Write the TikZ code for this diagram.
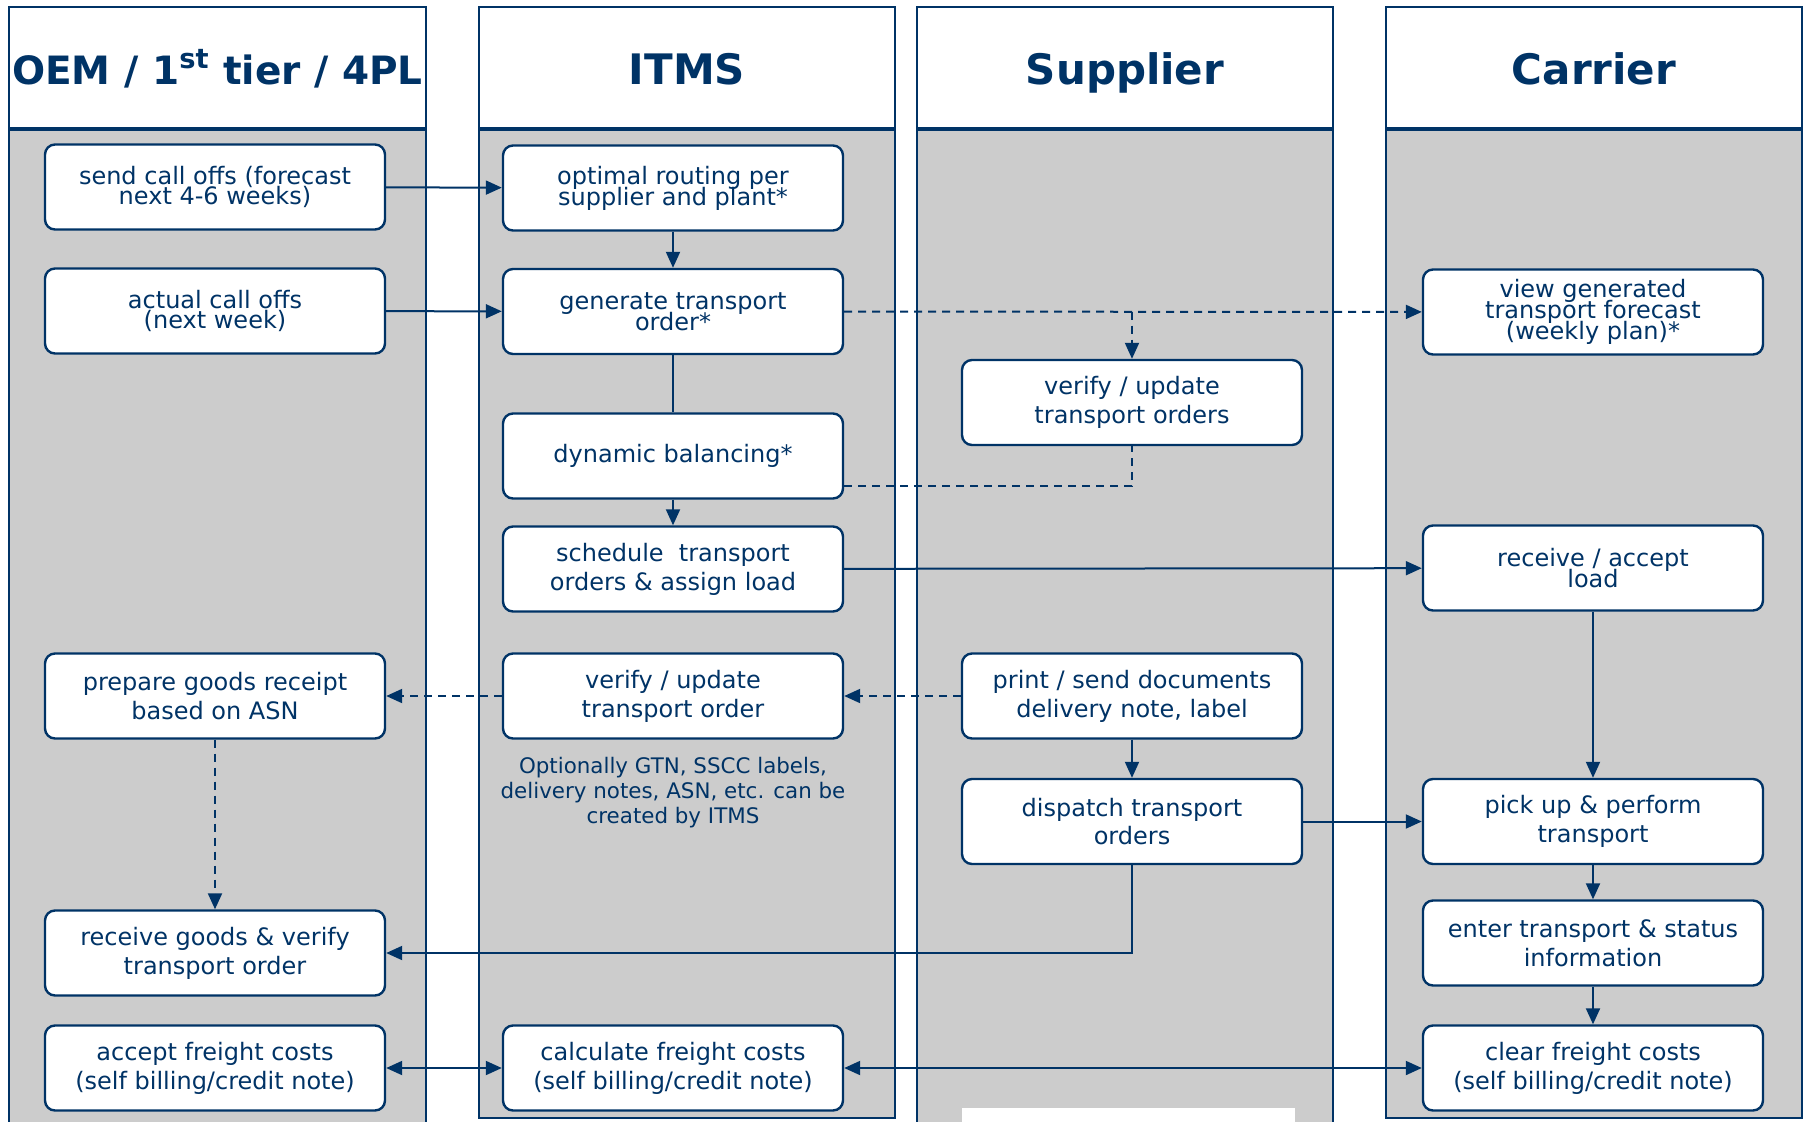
\documentclass[tikz,border=0pt]{standalone}
\usepackage{fontspec}
\setmainfont{DejaVu Sans}
\usetikzlibrary{arrows.meta,calc}
\definecolor{navy}{RGB}{0,51,102}
\definecolor{lanegray}{RGB}{204,204,204}
\newcommand\tightlines{\fontsize{12}{10.4}\selectfont\lineskiplimit=-20pt\relax}
\begin{document}
\begin{tikzpicture}[x=0.5pt,y=-0.5pt,
  lanebody/.style={draw=navy,line width=1pt,fill=lanegray},
  lanehead/.style={draw=navy,line width=1pt,fill=white},
  headtext/.style={text=navy,anchor=base,font=\bfseries\fontsize{21}{25}\selectfont},
  box/.style={draw=navy,line width=1.2pt,fill=white,rounded corners=5pt,
    minimum width=170pt,minimum height=42.5pt,align=center,text=navy,inner sep=0pt,
    font=\fontsize{12}{14.4}\selectfont},
  tight/.style={font=\tightlines},
  note/.style={align=center,text=navy,font=\fontsize{10.7}{12.5}\selectfont},
  flow/.style={draw=navy,line width=1pt,-{Triangle[length=8pt,width=7pt]}},
  both/.style={draw=navy,line width=1pt,{Triangle[length=8pt,width=7pt]}-{Triangle[length=8pt,width=7pt]}},
  link/.style={draw=navy,line width=1pt},
  dashedline/.style={dash pattern=on 4pt off 3pt}
]
\useasboundingbox (0,0) rectangle (1806,1121);
\clip (0,0) rectangle (1806,1121);

% swim lanes
\draw[lanebody] (9,129) rectangle (426,1140);
\draw[lanebody] (479,129) rectangle (895,1118);
\draw[lanebody] (917,129) rectangle (1333,1140);
\draw[lanebody] (1386,129) rectangle (1802,1118);
\fill[white] (962,1108) rectangle (1295,1130);

\draw[lanehead] (9,7) rectangle (426,129);
\draw[lanehead] (479,7) rectangle (895,129);
\draw[lanehead] (917,7) rectangle (1333,129);
\draw[lanehead] (1386,7) rectangle (1802,129);
\foreach \a/\b in {9/426,479/895,917/1333,1386/1802}
  \draw[navy,line width=1.6pt] (\a,129) -- (\b,129);

\node[headtext,font=\bfseries\fontsize{19.5}{24}\selectfont] (h1) at (217.5,84) {OEM / 1\textsuperscript{st} tier / 4PL};
\node[headtext] (h2) at (687,84) {ITMS};
\node[headtext] (h3) at (1125,84) {Supplier};
\node[headtext] (h4) at (1594,84) {Carrier};

% OEM lane
\node[box,tight] (sco) at (215,187) {send call offs (forecast\\next 4-6 weeks)};
\node[box,tight] (aco) at (215,311) {actual call offs\\(next week)};
\node[box] (pgr) at (215,696) {prepare goods receipt\\based on ASN};
\node[box] (rgv) at (215,953) {receive goods \& verify\\transport order};
\node[box] (afc) at (215,1068) {accept freight costs\\(self billing/credit note)};

% ITMS lane
\node[box,tight] (opt) at (673,188) {optimal routing per\\supplier and plant*};
\node[box,tight] (gen) at (673,311.5) {generate transport\\order*};
\node[box] (dyn) at (673,456) {dynamic balancing*};
\node[box] (sch) at (673,569) {schedule\ \ transport\\orders \& assign load};
\node[box] (vuo) at (673,696) {verify / update\\transport order};
\node[note] (opn) at (673,793) {Optionally GTN, SSCC labels,\\delivery notes, ASN, etc. can be\\created by ITMS};
\node[box] (cfc) at (673,1068) {calculate freight costs\\(self billing/credit note)};

% Supplier lane
\node[box] (vus) at (1132,402.5) {verify / update\\transport orders};
\node[box] (psd) at (1132,696) {print / send documents\\delivery note, label};
\node[box] (dto) at (1132,821.5) {dispatch transport\\orders};

% Carrier lane
\node[box,tight] (vgf) at (1593,312) {view generated\\transport forecast\\(weekly plan)*};
\node[box,tight] (ral) at (1593,568) {receive / accept\\load};
\node[box] (pup) at (1593,821.5) {pick up \& perform\\transport};
\node[box] (ets) at (1593,943) {enter transport \& status\\information};
\node[box] (clf) at (1593,1068) {clear freight costs\\(self billing/credit note)};

% connectors
\draw[flow] (sco) -- (opt);
\draw[flow] (aco) -- (gen);
\draw[flow] (opt) -- (gen);
\draw[link] (gen) -- (dyn);
\draw[flow] (dyn) -- (sch);
\draw[flow,dashedline] (gen) -- (vgf);
\coordinate (fork) at (vus.north |- gen.east);
\draw[flow,dashedline] (fork) -- (vus);
\draw[link,dashedline] ([yshift=-15pt]dyn.east) -| (vus.south);
\draw[flow] (sch) -- (ral);
\draw[flow] (ral) -- (pup);
\draw[flow] (pup) -- (ets);
\draw[flow] (ets) -- (clf);
\draw[flow] (psd) -- (dto);
\draw[flow,dashedline] (psd) -- (vuo);
\draw[flow,dashedline] (vuo) -- (pgr);
\draw[flow,dashedline] (pgr) -- (rgv);
\draw[flow] (dto) -- (pup);
\draw[flow] (dto.south) |- (rgv.east);
\draw[both] (afc) -- (cfc);
\draw[both] (cfc) -- (clf);
\end{tikzpicture}
\end{document}
